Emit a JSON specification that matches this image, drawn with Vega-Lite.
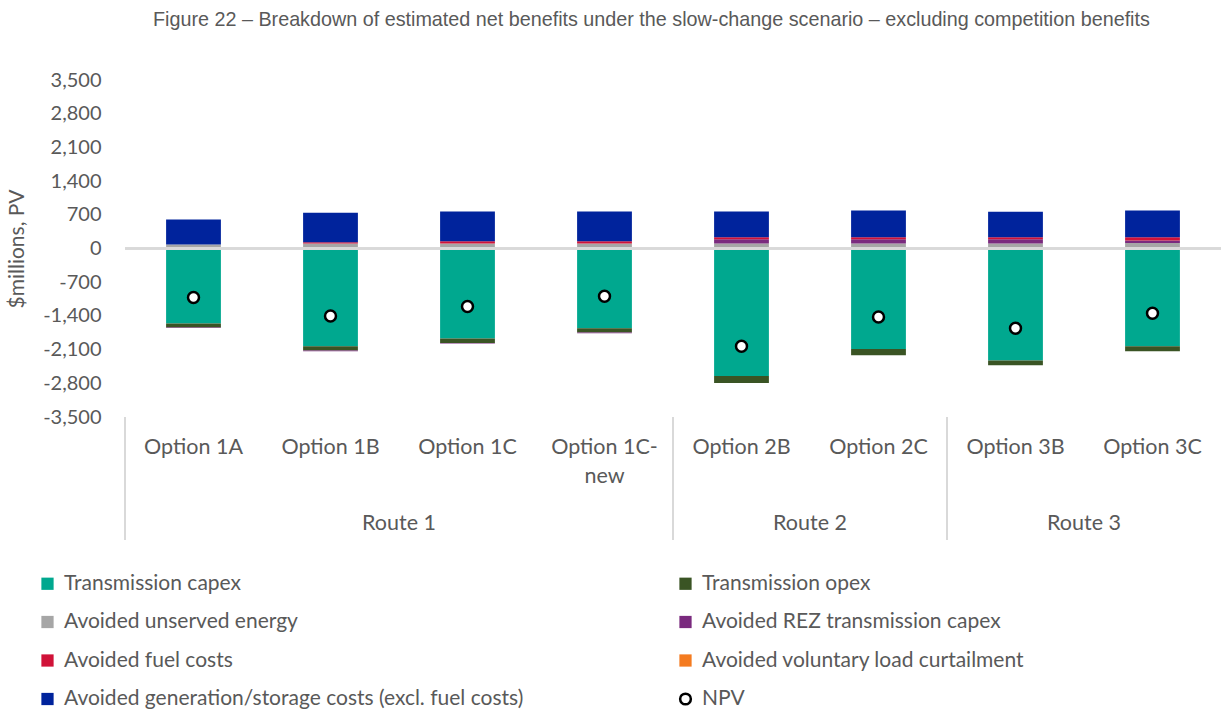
{
  "$schema": "https://vega.github.io/schema/vega-lite/v6.json",
  "autosize": {"type": "none"},
  "padding": {"left": 125, "top": 80, "right": 0, "bottom": 292},
  "width": 1096,
  "height": 337,
  "title": {
    "text": "Figure 22 – Breakdown of estimated net benefits under the slow-change scenario – excluding competition benefits",
    "anchor": "start",
    "frame": "group",
    "dx": 28,
    "offset": 40,
    "font": "Liberation Sans",
    "fontSize": 19.75,
    "fontWeight": "normal",
    "color": "#595959"
  },
  "config": {
    "view": {"stroke": null},
    "font": "Lato",
    "axis": {"labelColor": "#595959", "titleColor": "#595959", "labelFont": "Lato", "titleFont": "Lato"},
    "axisY": {"labelOverlap": false, "tickCount": 12},
    "legend": {"labelColor": "#595959", "labelFont": "Lato"}
  },
  "datasets": {
    "bars": [
      {"option": "Option 1A", "series": "Transmission capex", "k": 1, "value": -1559},
      {"option": "Option 1A", "series": "Transmission opex", "k": 2, "value": -83},
      {"option": "Option 1A", "series": "Avoided unserved energy", "k": 3, "value": 83},
      {"option": "Option 1A", "series": "Avoided REZ transmission capex", "k": 4, "value": -10},
      {"option": "Option 1A", "series": "Avoided fuel costs", "k": 5, "value": 0},
      {"option": "Option 1A", "series": "Avoided voluntary load curtailment", "k": 6, "value": 0},
      {"option": "Option 1A", "series": "Avoided generation/storage costs (excl. fuel costs)", "k": 7, "value": 520},

      {"option": "Option 1B", "series": "Transmission capex", "k": 1, "value": -2030},
      {"option": "Option 1B", "series": "Transmission opex", "k": 2, "value": -90},
      {"option": "Option 1B", "series": "Avoided unserved energy", "k": 3, "value": 104},
      {"option": "Option 1B", "series": "Avoided REZ transmission capex", "k": 4, "value": -15},
      {"option": "Option 1B", "series": "Avoided fuel costs", "k": 5, "value": 28},
      {"option": "Option 1B", "series": "Avoided voluntary load curtailment", "k": 6, "value": 0},
      {"option": "Option 1B", "series": "Avoided generation/storage costs (excl. fuel costs)", "k": 7, "value": 609},

      {"option": "Option 1C", "series": "Transmission capex", "k": 1, "value": -1871},
      {"option": "Option 1C", "series": "Transmission opex", "k": 2, "value": -90},
      {"option": "Option 1C", "series": "Avoided unserved energy", "k": 3, "value": 104},
      {"option": "Option 1C", "series": "Avoided REZ transmission capex", "k": 4, "value": -10},
      {"option": "Option 1C", "series": "Avoided fuel costs", "k": 5, "value": 48},
      {"option": "Option 1C", "series": "Avoided voluntary load curtailment", "k": 6, "value": 0},
      {"option": "Option 1C", "series": "Avoided generation/storage costs (excl. fuel costs)", "k": 7, "value": 617},

      {"option": "Option 1C-new", "series": "Transmission capex", "k": 1, "value": -1656},
      {"option": "Option 1C-new", "series": "Transmission opex", "k": 2, "value": -90},
      {"option": "Option 1C-new", "series": "Avoided unserved energy", "k": 3, "value": 104},
      {"option": "Option 1C-new", "series": "Avoided REZ transmission capex", "k": 4, "value": -14},
      {"option": "Option 1C-new", "series": "Avoided fuel costs", "k": 5, "value": 48},
      {"option": "Option 1C-new", "series": "Avoided voluntary load curtailment", "k": 6, "value": 0},
      {"option": "Option 1C-new", "series": "Avoided generation/storage costs (excl. fuel costs)", "k": 7, "value": 617},

      {"option": "Option 2B", "series": "Transmission capex", "k": 1, "value": -2647},
      {"option": "Option 2B", "series": "Transmission opex", "k": 2, "value": -146},
      {"option": "Option 2B", "series": "Avoided unserved energy", "k": 3, "value": 104},
      {"option": "Option 2B", "series": "Avoided REZ transmission capex", "k": 4, "value": 90},
      {"option": "Option 2B", "series": "Avoided fuel costs", "k": 5, "value": 42},
      {"option": "Option 2B", "series": "Avoided voluntary load curtailment", "k": 6, "value": 0},
      {"option": "Option 2B", "series": "Avoided generation/storage costs (excl. fuel costs)", "k": 7, "value": 533},

      {"option": "Option 2C", "series": "Transmission capex", "k": 1, "value": -2086},
      {"option": "Option 2C", "series": "Transmission opex", "k": 2, "value": -132},
      {"option": "Option 2C", "series": "Avoided unserved energy", "k": 3, "value": 104},
      {"option": "Option 2C", "series": "Avoided REZ transmission capex", "k": 4, "value": 90},
      {"option": "Option 2C", "series": "Avoided fuel costs", "k": 5, "value": 42},
      {"option": "Option 2C", "series": "Avoided voluntary load curtailment", "k": 6, "value": 0},
      {"option": "Option 2C", "series": "Avoided generation/storage costs (excl. fuel costs)", "k": 7, "value": 554},

      {"option": "Option 3B", "series": "Transmission capex", "k": 1, "value": -2328},
      {"option": "Option 3B", "series": "Transmission opex", "k": 2, "value": -97},
      {"option": "Option 3B", "series": "Avoided unserved energy", "k": 3, "value": 104},
      {"option": "Option 3B", "series": "Avoided REZ transmission capex", "k": 4, "value": 90},
      {"option": "Option 3B", "series": "Avoided fuel costs", "k": 5, "value": 42},
      {"option": "Option 3B", "series": "Avoided voluntary load curtailment", "k": 6, "value": 0},
      {"option": "Option 3B", "series": "Avoided generation/storage costs (excl. fuel costs)", "k": 7, "value": 526},

      {"option": "Option 3C", "series": "Transmission capex", "k": 1, "value": -2030},
      {"option": "Option 3C", "series": "Transmission opex", "k": 2, "value": -104},
      {"option": "Option 3C", "series": "Avoided unserved energy", "k": 3, "value": 112},
      {"option": "Option 3C", "series": "Avoided REZ transmission capex", "k": 4, "value": 55},
      {"option": "Option 3C", "series": "Avoided fuel costs", "k": 5, "value": 69},
      {"option": "Option 3C", "series": "Avoided voluntary load curtailment", "k": 6, "value": 0},
      {"option": "Option 3C", "series": "Avoided generation/storage costs (excl. fuel costs)", "k": 7, "value": 554}
    ],
    "npv": [
      {"option": "Option 1A", "npv": -1019},
      {"option": "Option 1B", "npv": -1400},
      {"option": "Option 1C", "npv": -1206},
      {"option": "Option 1C-new", "npv": -991},
      {"option": "Option 2B", "npv": -2030},
      {"option": "Option 2C", "npv": -1421},
      {"option": "Option 3B", "npv": -1656},
      {"option": "Option 3C", "npv": -1344}
    ],
    "routes": [
      {"route": "Route 1", "at": "Option 1B"},
      {"route": "Route 2", "at": "Option 2B"},
      {"route": "Route 3", "at": "Option 3B"}
    ],
    "seps": [
      {"sep": "Option 1A"},
      {"sep": "Option 2B"},
      {"sep": "Option 3B"}
    ]
  },
  "layer": [
    {
      "data": {"name": "bars"},
      "mark": {"type": "bar", "width": {"band": 0.4}},
      "encoding": {
        "x": {
          "field": "option", "type": "nominal", "sort": null,
          "scale": {"paddingInner": 0, "paddingOuter": 0,
            "domain": ["Option 1A", "Option 1B", "Option 1C", "Option 1C-new", "Option 2B", "Option 2C", "Option 3B", "Option 3C"]},
          "axis": {
            "title": null, "domain": false, "ticks": false, "labelAngle": 0,
            "labelFontSize": 21.5, "labelPadding": 19, "labelLineHeight": 29,
            "labelExpr": "datum.value == 'Option 1C-new' ? ['Option 1C-', 'new'] : datum.value"
          }
        },
        "y": {
          "field": "value", "type": "quantitative", "stack": "zero",
          "scale": {"domain": [-3500, 3500], "nice": false, "zero": false},
          "axis": {
            "title": "$millions, PV", "titleFontSize": 21, "titleFontWeight": "normal", "titlePadding": 15,
            "values": [-3500, -2800, -2100, -1400, -700, 0, 700, 1400, 2100, 2800, 3500],
            "tickCount": 12,
            "format": ",d", "labelExpr": "replace(datum.label, '−', '-')",
            "labelFontSize": 20, "labelPadding": 24, "labelOverlap": false,
            "domain": false, "ticks": false, "grid": false
          }
        },
        "color": {
          "field": "series", "type": "nominal",
          "scale": {
            "domain": ["Transmission capex", "Avoided unserved energy", "Avoided fuel costs", "Avoided generation/storage costs (excl. fuel costs)", "Transmission opex", "Avoided REZ transmission capex", "Avoided voluntary load curtailment", "NPV"],
            "range": ["#00A88F", "#A6A6A6", "#D01238", "#00239C", "#3A5424", "#7A2A7E", "#F47B20", "#FFFFFF"]
          },
          "legend": {
            "title": null, "orient": "none", "legendX": -88, "legendY": 493,
            "columns": 2, "columnPadding": 151, "rowPadding": 16.5,
            "labelFontSize": 21, "labelLimit": 0, "symbolType": "square", "symbolSize": 150, "labelOffset": 6,
            "symbolStrokeWidth": 0,
            "encode": {
              "symbols": {
                "update": {
                  "shape": {"signal": "datum.value === 'NPV' ? 'circle' : 'square'"},
                  "stroke": {"signal": "datum.value === 'NPV' ? '#000000' : 'transparent'"},
                  "strokeWidth": {"signal": "datum.value === 'NPV' ? 2.5 : 0"},
                  "size": {"signal": "datum.value === 'NPV' ? 115 : 150"}
                }
              }
            }
          }
        },
        "order": {"field": "k", "type": "quantitative"}
      }
    },
    {
      "data": {"name": "bars"},
      "mark": {"type": "rule", "color": "#D9D9D9", "strokeWidth": 2},
      "encoding": {"y": {"datum": 0}}
    },
    {
      "data": {"name": "npv"},
      "mark": {"type": "point", "filled": true, "fill": "#FFFFFF", "stroke": "#000000", "strokeWidth": 2.5, "size": 120, "opacity": 1},
      "encoding": {
        "x": {"field": "option", "type": "nominal", "sort": null},
        "y": {"field": "npv", "type": "quantitative"}
      }
    },
    {
      "data": {"name": "routes"},
      "mark": {"type": "text", "fontSize": 21.5, "color": "#595959", "baseline": "middle", "yOffset": 107},
      "encoding": {
        "x": {"field": "at", "type": "nominal", "sort": null, "bandPosition": 1},
        "y": {"datum": -3500},
        "text": {"field": "route"}
      }
    },
    {
      "data": {"name": "seps"},
      "mark": {"type": "rule", "color": "#D9D9D9", "strokeWidth": 2, "y2Offset": 123},
      "encoding": {
        "x": {"field": "sep", "type": "nominal", "sort": null, "bandPosition": 0},
        "y": {"datum": -3500},
        "y2": {"datum": -3500}
      }
    }
  ]
}
